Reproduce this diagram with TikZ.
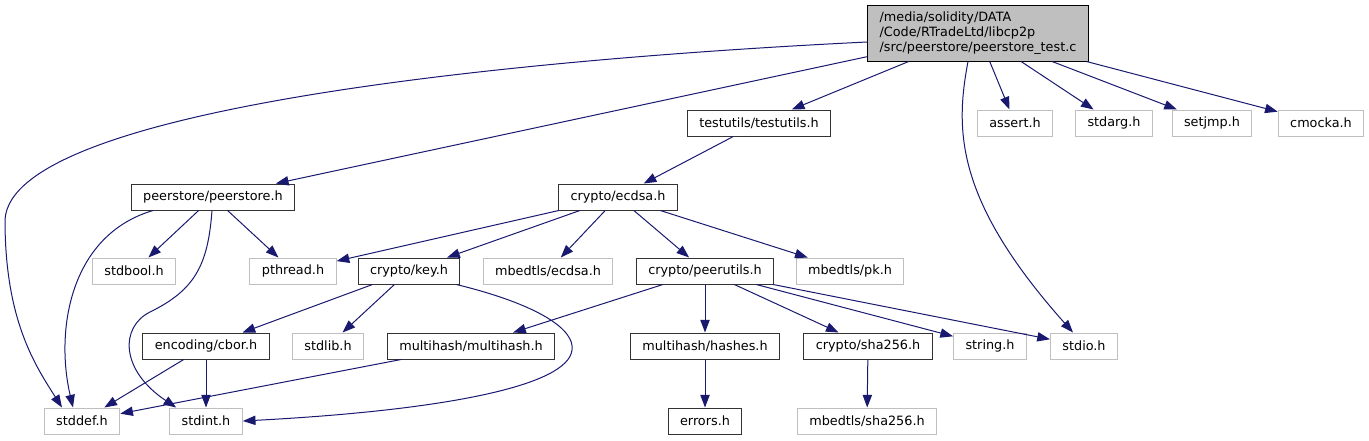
\documentclass[tikz,border=0pt]{standalone}
\usepackage{fontspec}
\setmainfont{DejaVu Sans}
\usetikzlibrary{arrows.meta,calc}
\definecolor{edgeblue}{HTML}{191970}
\definecolor{sysgray}{HTML}{BFBFBF}

\begin{document}
\begin{tikzpicture}[
  x=0.75pt, y=-0.75pt,
  header/.style={draw=black!80, fill=white, minimum height=19.5pt,
                 inner xsep=9pt, inner ysep=0pt,
                 font=\fontsize{9.6}{11}\selectfont},
  syshdr/.style={header, draw=sysgray},
  rootfile/.style={header, draw=black, fill=sysgray, align=left,
                   minimum width=166pt, minimum height=42pt},
  dep/.style={->, draw=edgeblue},
  >={Triangle[length=9.5pt,width=7pt]}, line width=0.75pt
]
  \useasboundingbox (0,0) rectangle (1369,440);

  \node[rootfile] (root) at (978,33)
    {/media/solidity/DATA\\/Code/RTradeLtd/libcp2p\\/src/peerstore/peerstore\_test.c};

  \node[header] (testutils) at (759,123)  {testutils/testutils.h};
  \node[syshdr] (assert)    at (1015,123) {assert.h};
  \node[syshdr] (stdarg)    at (1114,123) {stdarg.h};
  \node[syshdr] (setjmp)    at (1212,123) {setjmp.h};
  \node[syshdr] (cmocka)    at (1321,123) {cmocka.h};

  \node[header] (peerstore) at (213,197)  {peerstore/peerstore.h};
  \node[header] (ecdsa)     at (618,197)  {crypto/ecdsa.h};

  \node[syshdr] (stdbool)   at (134,271)  {stdbool.h};
  \node[syshdr] (pthread)   at (293,271)  {pthread.h};
  \node[header] (key)       at (409,271)  {crypto/key.h};
  \node[syshdr] (mbecdsa)   at (548,271)  {mbedtls/ecdsa.h};
  \node[header] (peerutils) at (705,271)  {crypto/peerutils.h};
  \node[syshdr] (mbpk)      at (850,271)  {mbedtls/pk.h};

  \node[header] (cbor)      at (206,346)  {encoding/cbor.h};
  \node[syshdr] (stdlib)    at (328,346)  {stdlib.h};
  \node[header] (multihash) at (471,346)  {multihash/multihash.h};
  \node[header] (hashes)    at (705,346)  {multihash/hashes.h};
  \node[header] (sha256)    at (868,346)  {crypto/sha256.h};
  \node[syshdr] (string)    at (990,346)  {string.h};
  \node[syshdr] (stdio)     at (1084,346) {stdio.h};

  \node[syshdr] (stddef)    at (82,421)   {stddef.h};
  \node[syshdr] (stdint)    at (206,421)  {stdint.h};
  \node[header] (errors)    at (705,421)  {errors.h};
  \node[syshdr] (mbsha)     at (867,421)  {mbedtls/sha256.h};

  % root file
  \draw[dep] ($(root.west)+(0,9)$) .. controls (500,60) and (10,110) .. (5,220)
             .. controls (5,320) and (35,365) .. ($(stddef.north)+(-20,0)$);
  \draw[dep] (root) -- (peerstore);
  \draw[dep] (root) -- (testutils);
  \draw[dep] ($(root.south)+(-10,0)$) .. controls (955,130) and (955,200) .. ($(stdio.north)+(-11,0)$);
  \draw[dep] (root) -- (assert);
  \draw[dep] (root) -- (stdarg);
  \draw[dep] (root) -- (setjmp);
  \draw[dep] (root) -- (cmocka);
  \draw[dep] (testutils) -- (ecdsa);

  % peerstore
  \draw[dep] ($(peerstore.south)+(-60,0)$) .. controls (70,235) and (55,330) .. ($(stddef.north)+(-9,0)$);
  \draw[dep] (peerstore) -- (stdbool);
  \draw[dep] ($(peerstore.south)+(-1,0)$) .. controls (208,265) and (195,290) .. (150,312)
             .. controls (120,327) and (120,370) .. ($(stdint.north west)+(7,0)$);
  \draw[dep] (peerstore) -- (pthread);

  % ecdsa
  \draw[dep] (ecdsa) -- (pthread);
  \draw[dep] (ecdsa) -- (key);
  \draw[dep] (ecdsa) -- (mbecdsa);
  \draw[dep] (ecdsa) -- (peerutils);
  \draw[dep] (ecdsa) -- (mbpk);

  % key
  \draw[dep] (key) -- (cbor);
  \draw[dep] (key) -- (stdlib);
  \draw[dep] ($(key.south east)+(-4,0)$) .. controls (540,305) and (575,330) .. (572,350)
             .. controls (568,385) and (450,410) .. (stdint.east);

  \draw[dep] (cbor) -- (stddef);
  \draw[dep] (cbor) -- (stdint);
  \draw[dep] (multihash) -- (stddef);

  % peerutils
  \draw[dep] (peerutils) -- (multihash);
  \draw[dep] (peerutils) -- (hashes);
  \draw[dep] (peerutils) -- (sha256);
  \draw[dep] (peerutils) -- (string);
  \draw[dep] (peerutils) -- (stdio);

  \draw[dep] (hashes) -- (errors);
  \draw[dep] (sha256) -- (mbsha);
\end{tikzpicture}
\end{document}
